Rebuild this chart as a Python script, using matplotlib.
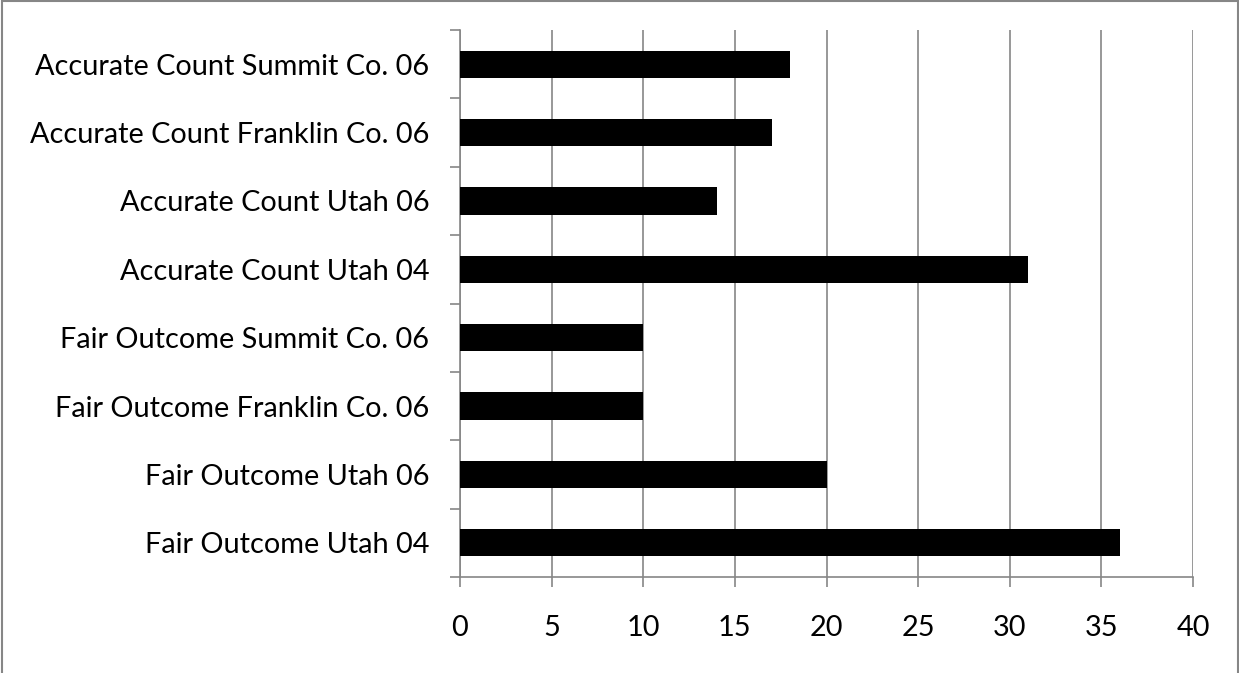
import matplotlib
matplotlib.use('Agg')
import matplotlib.pyplot as plt
from matplotlib.patches import Rectangle

categories = ['Fair Outcome Utah 04', 'Fair Outcome Utah 06', 'Fair Outcome Franklin Co. 06',
              'Fair Outcome Summit Co. 06', 'Accurate Count Utah 04', 'Accurate Count Utah 06',
              'Accurate Count Franklin Co. 06', 'Accurate Count Summit Co. 06']
values = [36, 20, 10, 10, 31, 14, 17, 18]
xticks = [0, 5, 10, 15, 20, 25, 30, 35, 40]

plt.rcParams['font.family'] = ['Lato', 'DejaVu Sans']
grey = '#868686'
W, H = 1239, 673

fig = plt.figure(figsize=(W / 100, H / 100), dpi=100)
ax = fig.add_axes([460 / W, 1 - 577 / H, (1193 - 460) / W, (577 - 30) / H])

pos = list(range(len(categories)))
ax.barh(pos, values, height=0.4, color='black', zorder=3)

ax.set_xlim(0, 40)
ax.set_ylim(-0.5, len(categories) - 0.5)
ax.set_xticks(xticks)
ax.set_xticklabels([str(t) for t in xticks])
ax.set_yticks(pos)
ax.set_yticklabels(categories)
ax.set_yticks([p - 0.5 for p in pos] + [len(categories) - 0.5], minor=True)

ax.tick_params(axis='y', which='major', length=0, pad=22, labelsize=20.8)
ax.tick_params(axis='y', which='minor', length=7, width=1.2, color=grey, direction='out')
ax.tick_params(axis='x', length=7, width=1.2, color=grey, direction='out', pad=20, labelsize=20.8)

ax.grid(axis='x', color=grey, linewidth=1.2, zorder=0)
for s in ['top', 'right']:
    ax.spines[s].set_visible(False)
for s in ['left', 'bottom']:
    ax.spines[s].set_color(grey)
    ax.spines[s].set_linewidth(1.2)

# chart area border, bottom edge runs off the figure
fig.patches.append(Rectangle((1.5 / W, -0.1), (1237.5 - 1.5) / W, 1.1 - 1.5 / H,
                             transform=fig.transFigure, fill=False,
                             edgecolor=grey, linewidth=1.5))

fig.savefig('out.png', dpi=100)
